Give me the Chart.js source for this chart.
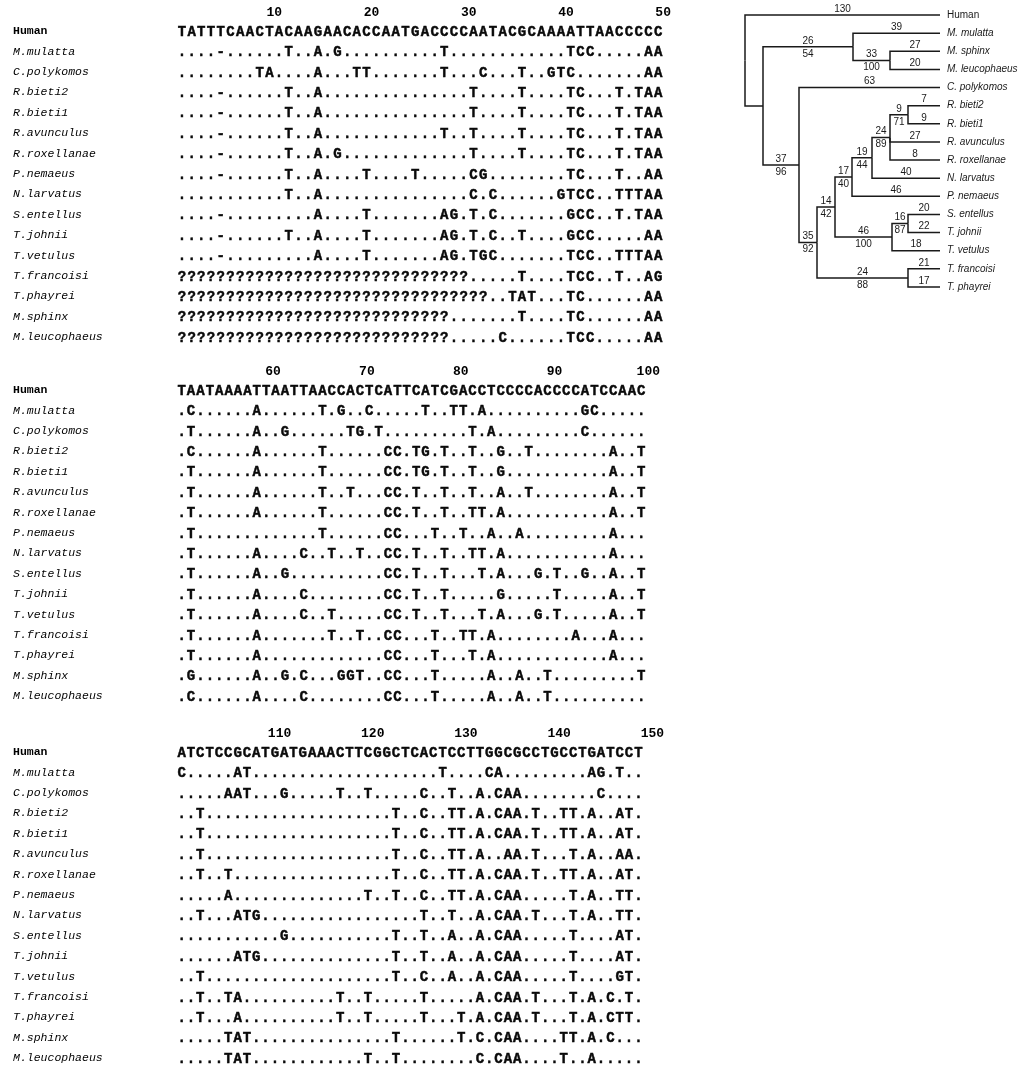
<!DOCTYPE html>
<html>
<head>
<meta charset="utf-8">
<script src="https://cdn.jsdelivr.net/npm/chart.js@4.4.0/dist/chart.umd.min.js"></script>
<style>
body { margin: 0; background: #fff; width: 1018px; height: 1072px; position: relative; overflow: hidden; }
canvas { position: absolute; }
</style>
</head>
<body>
<canvas id="b1" width="700" height="360" style="left:0;top:1px"></canvas>
<canvas id="b2" width="700" height="360" style="left:0;top:360px"></canvas>
<canvas id="b3" width="700" height="360" style="left:0;top:722px"></canvas>
<canvas id="tree" width="318" height="340" style="left:700px;top:-20px"></canvas>
<script>
// rows of the alignment (same order in every block)
const taxa = ['Human', 'M.mulatta', 'C.polykomos', 'R.bieti2', 'R.bieti1', 'R.avunculus', 'R.roxellanae',
  'P.nemaeus', 'N.larvatus', 'S.entellus', 'T.johnii', 'T.vetulus', 'T.francoisi', 'T.phayrei',
  'M.sphinx', 'M.leucophaeus'];

// sites 1-50, written in groups of ten
const block1 = [
  'TATTTCAACT ACAAGAACAC CAATGACCCC AATACGCAAA ATTAACCCCC',
  '....-..... .T..A.G... .......T.. .......... TCC.....AA',
  '........TA ....A...TT .......T.. .C...T..GT C.......AA',
  '....-..... .T..A..... .......... T....T.... TC...T.TAA',
  '....-..... .T..A..... .......... T....T.... TC...T.TAA',
  '....-..... .T..A..... .......T.. T....T.... TC...T.TAA',
  '....-..... .T..A.G... .......... T....T.... TC...T.TAA',
  '....-..... .T..A....T ....T..... CG........ TC...T..AA',
  '.......... .T..A..... .......... C.C......G TCC..TTTAA',
  '....-..... ....A....T .......AG. T.C....... GCC..T.TAA',
  '....-..... .T..A....T .......AG. T.C..T.... GCC.....AA',
  '....-..... ....A....T .......AG. TGC....... TCC..TTTAA',
  '?????????? ?????????? ?????????? .....T.... TCC..T..AG',
  '?????????? ?????????? ?????????? ??..TAT... TC......AA',
  '?????????? ?????????? ????????.. .....T.... TC......AA',
  '?????????? ?????????? ????????.. ...C...... TCC.....AA'
];
// sites 51-100
const block2 = [
  'TAATAAAATT AATTAACCAC TCATTCATCG ACCTCCCCAC CCCATCCAAC',
  '.C......A. .....T.G.. C.....T..T T.A....... ...GC.....',
  '.T......A. .G......TG .T........ .T.A...... ...C......',
  '.C......A. .....T.... ..CC.TG.T. .T..G..T.. ......A..T',
  '.T......A. .....T.... ..CC.TG.T. .T..G..... ......A..T',
  '.T......A. .....T..T. ..CC.T..T. .T..A..T.. ......A..T',
  '.T......A. .....T.... ..CC.T..T. .TT.A..... ......A..T',
  '.T........ .....T.... ..CC...T.. T..A..A... ......A...',
  '.T......A. ...C..T..T ..CC.T..T. .TT.A..... ......A...',
  '.T......A. .G........ ..CC.T..T. ..T.A...G. T..G..A..T',
  '.T......A. ...C...... ..CC.T..T. ....G..... T.....A..T',
  '.T......A. ...C..T... ..CC.T..T. ..T.A...G. T.....A..T',
  '.T......A. ......T..T ..CC...T.. TT.A...... ..A...A...',
  '.T......A. .......... ..CC...T.. .T.A...... ......A...',
  '.G......A. .G.C...GGT ..CC...T.. ...A..A..T .........T',
  '.C......A. ...C...... ..CC...T.. ...A..A..T ..........'
];
// sites 101-150
const block3 = [
  'ATCTCCGCAT GATGAAACTT CGGCTCACTC CTTGGCGCCT GCCTGATCCT',
  'C.....AT.. .......... ........T. ...CA..... ....AG.T..',
  '.....AAT.. .G.....T.. T.....C..T ..A.CAA... .....C....',
  '..T....... .......... ...T..C..T T.A.CAA.T. .TT.A..AT.',
  '..T....... .......... ...T..C..T T.A.CAA.T. .TT.A..AT.',
  '..T....... .......... ...T..C..T T.A..AA.T. ..T.A..AA.',
  '..T..T.... .......... ...T..C..T T.A.CAA.T. .TT.A..AT.',
  '.....A.... .......... T..T..C..T T.A.CAA... ..T.A..TT.',
  '..T...ATG. .......... ......T..T ..A.CAA.T. ..T.A..TT.',
  '.......... .G........ ...T..T..A ..A.CAA... ..T....AT.',
  '......ATG. .......... ...T..T..A ..A.CAA... ..T....AT.',
  '..T....... .......... ...T..C..A ..A.CAA... ..T....GT.',
  '..T..TA... .......T.. T.....T... ..A.CAA.T. ..T.A.C.T.',
  '..T...A... .......T.. T.....T... T.A.CAA.T. ..T.A.CTT.',
  '.....TAT.. .......... ...T...... T.C.CAA... .TT.A.C...',
  '.....TAT.. .......... T..T...... ..C.CAA... .T..A.....'
];
const ticks1 = [10, 20, 30, 40, 50];
const ticks2 = [60, 70, 80, 90, 100];
const ticks3 = [110, 120, 130, 140, 150];

// tree: internal nodes
const nodeIds     = ['root', 'n1', 'mac', 'msml', 'col', 'c35', 'c14', 'c17', 'c19', 'c24', 'rb', 'c46', 'c16', 'tftp'];
const nodeParent  = [null, 'root', 'n1', 'mac', 'n1', 'col', 'c35', 'c14', 'c17', 'c19', 'c24', 'c14', 'c46', 'c35'];
const nodeDepth   = [0, 18, 108, 145, 54, 72, 90, 107, 127, 145, 163, 147, 163, 163];
const nodeTopLab  = ['', '', '26', '33', '37', '35', '14', '17', '19', '24', '9', '46', '16', '24'];
const nodeBotLab  = ['', '', '54', '100', '96', '92', '42', '40', '44', '89', '71', '100', '87', '88'];
// tree: leaves
const treeLeaves  = ['Human', 'M. mulatta', 'M. sphinx', 'M. leucophaeus', 'C. polykomos', 'R. bieti2', 'R. bieti1',
  'R. avunculus', 'R. roxellanae', 'N. larvatus', 'P. nemaeus', 'S. entellus', 'T. johnii', 'T. vetulus',
  'T. francoisi', 'T. phayrei'];
const leafParent  = ['root', 'mac', 'msml', 'msml', 'col', 'rb', 'rb', 'c24', 'c24', 'c19', 'c17', 'c16', 'c16', 'c46', 'tftp', 'tftp'];
const leafLabel   = ['130', '39', '27', '20', '63', '7', '9', '27', '8', '40', '46', '20', '22', '18', '21', '17'];
const leafDepth   = 195;

const MONO = '"Liberation Mono", "Courier New", monospace';
const NARROW = '"Liberation Sans Narrow", "Liberation Sans", Arial, sans-serif';

const seqText = {
  id: 'seqText',
  afterDatasetsDraw(chart) {
    const ctx = chart.ctx;
    const pts = chart.data.datasets[0].data;
    ctx.save();
    ctx.fillStyle = '#0a0a0a';
    ctx.strokeStyle = '#0a0a0a';
    ctx.lineWidth = 0.45;
    ctx.textAlign = 'center';
    ctx.textBaseline = 'middle';
    ctx.font = 'bold 14px ' + MONO;
    chart.getDatasetMeta(0).data.forEach((el, i) => {
      ctx.fillText(pts[i].c, el.x, el.y + 1);
      ctx.strokeText(pts[i].c, el.x, el.y + 1);
    });
    ctx.restore();
  }
};

function alignmentChart(id, rows, first, ticks, charW, shift) {
  const pts = [];
  rows.forEach((row, r) => {
    const s = row.replace(/ /g, '');
    for (let i = 0; i < s.length; i++) pts.push({ x: first + i, y: taxa[r], c: s[i] });
  });
  const left = 177, top = 20, band = 20.4, W = 700, H = 360;
  new Chart(document.getElementById(id), {
    type: 'scatter',
    data: { datasets: [{ data: pts, pointRadius: 0, pointHoverRadius: 0 }] },
    options: {
      responsive: false, animation: false, events: [],
      layout: { padding: { left: 13, right: W - left - 50 * charW, top: 0, bottom: H - top - 16 * band } },
      plugins: { legend: { display: false }, tooltip: { enabled: false } },
      scales: {
        x: {
          type: 'linear', position: 'top', min: first - 0.5, max: first + 49.5,
          grid: { display: false, drawTicks: false }, border: { display: false },
          afterBuildTicks: s => { s.ticks = ticks.map(v => ({ value: v })); },
          afterFit: s => { s.height = top; },
          ticks: { padding: 0, labelOffset: shift, autoSkip: false, maxRotation: 0, color: '#000',
            font: { family: MONO, size: 13, weight: 'bold' } }
        },
        y: {
          type: 'category', labels: taxa, offset: true,
          grid: { display: false, drawTicks: false }, border: { display: false },
          afterFit: s => { s.width = left - 13; },
          ticks: { crossAlign: 'far', padding: 0, autoSkip: false, color: '#000',
            font: c => c.index === 0 ? { family: MONO, size: 11.5, weight: 'bold' } : { family: MONO, size: 11.5, style: 'italic' } }
        }
      }
    },
    plugins: [seqText]
  });
}

alignmentChart('b1', block1, 1, ticks1, 9.72, 5);
alignmentChart('b2', block2, 51, ticks2, 9.38, 7);
alignmentChart('b3', block3, 101, ticks3, 9.32, 14);

// tree layout
const depthOf = {}, yOf = {};
nodeIds.forEach((n, i) => { depthOf[n] = nodeDepth[i]; });
treeLeaves.forEach((l, i) => { depthOf['L' + i] = leafDepth; yOf['L' + i] = i; });
function kids(id) {
  const k = [];
  nodeIds.forEach((n, i) => { if (nodeParent[i] === id) k.push(n); });
  leafParent.forEach((p, i) => { if (p === id) k.push('L' + i); });
  return k;
}
function nodeY(id) {
  if (id in yOf) return yOf[id];
  const ys = kids(id).map(nodeY);
  return (yOf[id] = (Math.min(...ys) + Math.max(...ys)) / 2);
}
nodeY('root');

const edges = [];
nodeIds.forEach((n, i) => { if (nodeParent[i]) edges.push([nodeParent[i], n, nodeTopLab[i], nodeBotLab[i]]); });
treeLeaves.forEach((l, i) => edges.push([leafParent[i], 'L' + i, leafLabel[i], '']));

const branchDatasets = edges.map(([p, c]) => ({
  data: [{ x: depthOf[p], y: yOf[p] }, { x: depthOf[p], y: yOf[c] }, { x: depthOf[c], y: yOf[c] }],
  showLine: true, borderColor: '#1a1a1a', borderWidth: 1.5, pointRadius: 0, tension: 0, clip: false
}));

const branchText = {
  id: 'branchText',
  afterDatasetsDraw(chart) {
    const ctx = chart.ctx, xs = chart.scales.x, ys = chart.scales.y;
    ctx.save();
    ctx.fillStyle = '#1a1a1a';
    ctx.textAlign = 'center';
    ctx.font = '10px ' + NARROW;
    edges.forEach(([p, c, t, b]) => {
      const px = xs.getPixelForValue((depthOf[p] + depthOf[c]) / 2);
      const py = ys.getPixelForValue(yOf[c]);
      if (t) { ctx.textBaseline = 'bottom'; ctx.fillText(t, px, py - 1); }
      if (b) { ctx.textBaseline = 'top'; ctx.fillText(b, px, py + 2); }
    });
    ctx.restore();
  }
};

new Chart(document.getElementById('tree'), {
  type: 'scatter',
  data: { datasets: branchDatasets },
  options: {
    responsive: false, animation: false, events: [],
    layout: { padding: { left: 45, right: 0, top: 26, bottom: 24 } },
    plugins: { legend: { display: false }, tooltip: { enabled: false } },
    scales: {
      x: { type: 'linear', min: 0, max: leafDepth, display: false },
      y: {
        type: 'linear', position: 'right', reverse: true, min: -0.5, max: treeLeaves.length - 0.5,
        grid: { display: false, drawTicks: false }, border: { display: false },
        afterBuildTicks: s => { s.ticks = treeLeaves.map((_, i) => ({ value: i })); },
        afterFit: s => { s.width = 78; },
        ticks: {
          padding: 7, autoSkip: false, color: '#1a1a1a',
          callback: v => treeLeaves[v],
          font: c => c.index === 0 ? { family: NARROW, size: 10 } : { family: NARROW, size: 10, style: 'italic' }
        }
      }
    }
  },
  plugins: [branchText]
});
</script>
</body>
</html>
